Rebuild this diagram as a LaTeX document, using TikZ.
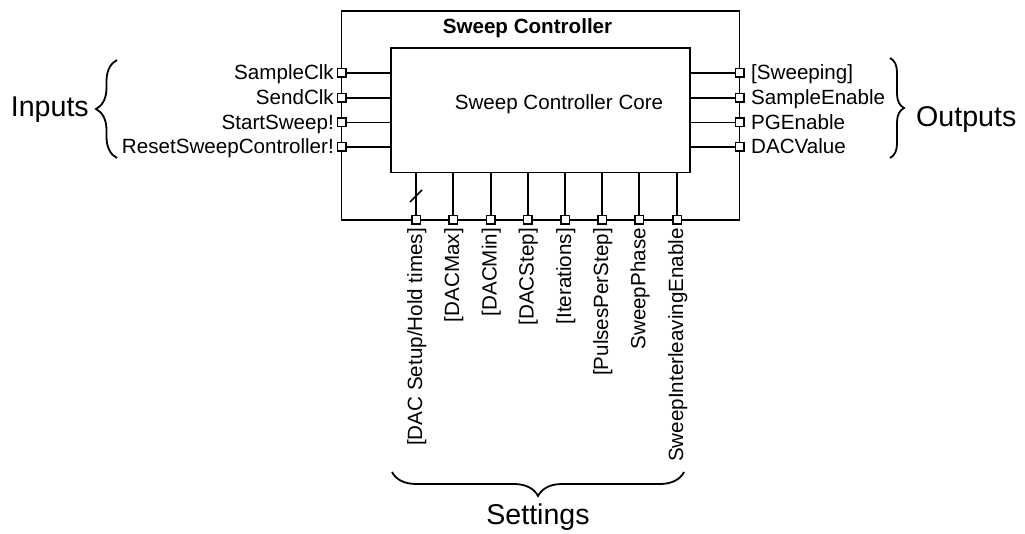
\documentclass[tikz,border=0pt]{standalone}
\usepackage{fontspec}
\setmainfont{Liberation Sans}
\usetikzlibrary{decorations.pathreplacing}
\begin{document}
\begin{tikzpicture}[x=1pt,y=-1pt,
  wire/.style={line width=1.9pt},
  port/.style={draw, line width=1.5pt, fill=white, minimum size=8.5pt, inner sep=0pt},
  lbl/.style={font=\fontsize{20.6}{24}\selectfont, inner sep=0pt},
  big/.style={font=\fontsize{28.6}{32}\selectfont, inner sep=0pt},
  brc/.style={decorate, line width=1.8pt, decoration={brace, amplitude=#1}}]
\useasboundingbox (0,0) rectangle (1025,534);

% outer block and its core
\node[draw, wire, minimum width=398pt, minimum height=209pt, inner sep=0pt] (outer) at (540.5,115.5) {};
\node[draw, wire, minimum width=299pt, minimum height=124.5pt, inner sep=0pt] (core) at (540.5,110.25) {};
\node[lbl, font={\fontsize{20.6}{24}\selectfont\bfseries}, anchor=base] (title) at (527.5,34) {Sweep Controller};
\node[lbl, anchor=base] (corename) at (559,110) {Sweep Controller Core};

% input and output ports
\foreach \y [count=\i] in {73,98,122.5,147} {
  \node[port] (in\i) at (341.5,\y) {};
  \draw[wire] (in\i.east) -- (in\i.east -| core.west);
  \node[port] (out\i) at (739.5,\y) {};
  \draw[wire] (out\i.west) -- (out\i.west -| core.east);
}
\node[lbl, anchor=base east] (lin1) at (334,80) {SampleClk};
\node[lbl, anchor=base east] (lin2) at (334,105) {SendClk};
\node[lbl, anchor=base east] (lin3) at (334,129.5) {StartSweep!};
\node[lbl, anchor=base east] (lin4) at (334,154) {ResetSweepController!};

\node[lbl, anchor=base west] (lout1) at (751,80) {[Sweeping]};
\node[lbl, anchor=base west] (lout2) at (751,105) {SampleEnable};
\node[lbl, anchor=base west] (lout3) at (751,129.5) {PGEnable};
\node[lbl, anchor=base west] (lout4) at (751,154) {DACValue};

% setting ports
\foreach \x [count=\i] in {416,453,490.7,527.7,565,602,639.3,677} {
  \node[port] (set\i) at (\x,220) {};
  \draw[wire] (set\i.north) -- (set\i.north |- core.south);
}
\coordinate (tick) at (416,196);
\draw[line width=1.5pt] (tick) ++(-6,6) -- ++(12,-12);

\node[lbl, rotate=90, anchor=base east] (ls1) at (422,228) {[DAC Setup/Hold times]};
\node[lbl, rotate=90, anchor=base east] (ls2) at (459,228) {[DACMax]};
\node[lbl, rotate=90, anchor=base east] (ls3) at (496.7,228) {[DACMin]};
\node[lbl, rotate=90, anchor=base east] (ls4) at (533.7,228) {[DACStep]};
\node[lbl, rotate=90, anchor=base east] (ls5) at (571,228) {[Iterations]};
\node[lbl, rotate=90, anchor=base east] (ls6) at (608,228) {[PulsesPerStep]};
\node[lbl, rotate=90, anchor=base east] (ls7) at (645.3,228) {SweepPhase};
\node[lbl, rotate=90, anchor=base east] (ls8) at (683,228) {SweepInterleavingEnable};

% group braces
\coordinate (ib1) at (117,158);
\coordinate (ib2) at (117,60);
\draw[brc=21] (ib1) -- (ib2);
\node[big, anchor=base east] (inputs) at (89,117) {Inputs};

\coordinate (ob1) at (890,58);
\coordinate (ob2) at (890,158);
\draw[brc=14] (ob1) -- (ob2);
\node[big, anchor=base west] (outputs) at (916,127) {Outputs};

\coordinate (sb1) at (684,472);
\coordinate (sb2) at (392,472);
\draw[brc=24] (sb1) -- (sb2);
\node[big, anchor=base] (settings) at (538,524) {Settings};
\end{tikzpicture}
\end{document}
